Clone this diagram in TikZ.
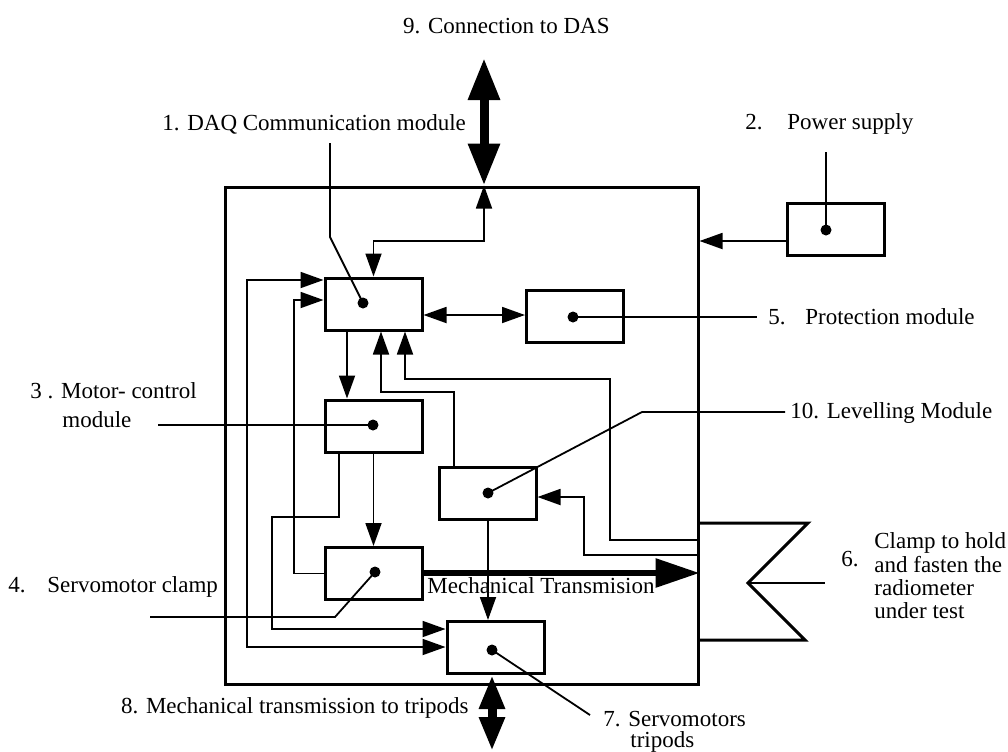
\documentclass[tikz,border=0pt]{standalone}
\usepackage{fontspec}
\setmainfont{Liberation Serif}
\usetikzlibrary{arrows.meta}
\tikzset{
  wire/.style={line width=0.9pt},
  arr/.style={wire,-{Triangle[length=11.5pt,width=8pt]}},
  darr/.style={wire,{Triangle[length=11.5pt,width=8pt]}-{Triangle[length=11.5pt,width=8pt]}},
  modbox/.style={draw,line width=1.5pt,minimum width=48.5pt,minimum height=26pt,inner sep=0pt},
  blob/.style={circle,fill,inner sep=0pt,minimum size=5.5pt},
  lbl/.style={inner sep=0pt,anchor=base west},
  bigdarr/.style={line width=4.5pt,{Triangle[length=21pt,width=15pt]}-{Triangle[length=21pt,width=15pt]}},
  smalldarr/.style={line width=4.5pt,{Triangle[length=17pt,width=12pt]}-{Triangle[length=17pt,width=12pt]}},
  mecharr/.style={line width=3pt,-{Triangle[length=22pt,width=14pt]}}
}
\begin{document}
\begin{tikzpicture}[x=0.5pt,y=-0.5pt,font=\fontsize{11.5}{12}\selectfont]
\useasboundingbox (0,0) rectangle (1008,751);

% outer housing
\node[draw,line width=1.5pt,minimum width=236.5pt,minimum height=248.5pt,inner sep=0pt] (outer) at (461.5,435.5) {};
% clamp
\draw[line width=1.5pt] (outer.east |- 0,523) -- (808,523) -- (748,583) -- (805,640) -- (outer.east |- 0,640);
\coordinate (apex) at (748,583);

% modules
\node[modbox] (B1) at (373.5,304) {};
\node[modbox] (B3) at (373.5,426) {};
\node[modbox] (B4) at (373.5,573.5) {};
\node[modbox] (B7) at (495.5,647.5) {};
\node[modbox] (B10) at (487.5,493) {};
\node[modbox] (B5) at (575,316) {};
\node[modbox] (B2) at (835.5,229.5) {};

% dots
\node[blob] (d1) at (363,303) {};
\node[blob] (d2) at (826,230) {};
\node[blob] (d3) at (373,425) {};
\node[blob] (d4) at (375,572) {};
\node[blob] (d5) at (573,317) {};
\node[blob] (d7) at (492,650) {};
\node[blob] (d10) at (488,493) {};

% helper coordinates
\coordinate (das) at (outer.north -| 484,0);
\coordinate (dastop) at (484,58);
\coordinate (tripend) at (492,751);

% external big arrows
\draw[bigdarr] (dastop) -- (das);
\draw[smalldarr] (B7.south -| 492,0) -- (tripend);
\draw[mecharr] (B4.east |- 0,573) -- (outer.east |- 0,573);

% connections
\draw[darr] (B1.north) |- (484,241) -- (das);
\draw[darr] (B1.east |- 0,315) -- (B5.west |- 0,315);
\draw[darr] (B7.west |- 0,647) -| (247,280) -- (B1.west |- 0,280);
\draw[arr] (B4.west) -| (294,300) -- (B1.west |- 0,300);
\draw[arr] (B1.south -| 347,0) -- (B3.north -| 347,0);
\draw[arr] (B3.south) -- (B4.north);
\draw[arr] (B3.south -| 339,0) -- (339,517) -| (272,629) -- (B7.west |- 0,629);
\draw[arr] (B10.north -| 454,0) |- (381,392) -- (B1.south -| 381,0);
\draw[arr] (outer.east |- 0,540) -| (610,379) -| (B1.south -| 405,0);
\draw[arr] (outer.east |- 0,555) -| (584,497) -- (B10.east |- 0,497);
\draw[arr] (B10.south -| 488,0) -- (B7.north -| 488,0);
\draw[arr] (B2.west |- 0,241) -- (outer.east |- 0,241);

% leaders
\coordinate (l1a) at (330,143);
\coordinate (l1b) at (330,237);
\draw[wire] (l1a) -- (l1b) -- (d1.center);
\coordinate (l2) at (826,152);
\draw[wire] (l2) -- (d2.center);
\coordinate (l3) at (158,425);
\draw[wire] (l3) -- (d3.center);
\coordinate (l4a) at (150,617);
\coordinate (l4b) at (335,617);
\draw[wire] (l4a) -- (l4b) -- (d4.center);
\coordinate (l5) at (757,317);
\draw[wire] (d5.center) -- (l5);
\coordinate (l10a) at (642,412);
\coordinate (l10b) at (785,412);
\draw[wire] (d10.center) -- (l10a) -- (l10b);
\coordinate (l7) at (590,715);
\draw[wire] (d7.center) -- (l7);
\coordinate (l6) at (825,583);
\draw[wire] (apex) -- (l6);

% labels
\node[lbl,anchor=base east] (t9) at (610,33) {9. Connection to DAS};
\node[lbl] (t1) at (162,130) {1. DAQ Communication module};
\node[lbl] (t2n) at (745,129) {2.};
\node[lbl] (t2) at (787,129) {Power supply};
\node[lbl] (t3) at (30,398) {3 . Motor- control};
\node[lbl] (t3b) at (62,427) {module};
\node[lbl] (t4n) at (8,592) {4.};
\node[lbl] (t4) at (47,592) {Servomotor clamp};
\node[lbl] (t5n) at (768,324) {5.};
\node[lbl] (t5) at (805,324) {Protection module};
\node[lbl] (t10) at (790,418) {10. Levelling Module};
\node[lbl] (tm) at (427,593) {Mechanical Transmision};
\node[lbl,anchor=base east] (t8) at (469,713) {8. Mechanical transmission to tripods};
\node[lbl] (t7) at (603,726) {7. Servomotors};
\node[lbl] (t7b) at (630,747) {tripods};
\node[lbl] (t6n) at (841,566) {6.};
\node[lbl] (t6a) at (874,548) {Clamp to hold};
\node[lbl] (t6b) at (874,572) {and fasten the};
\node[lbl] (t6c) at (874,595) {radiometer};
\node[lbl] (t6d) at (874,618) {under test};
\end{tikzpicture}
\end{document}
